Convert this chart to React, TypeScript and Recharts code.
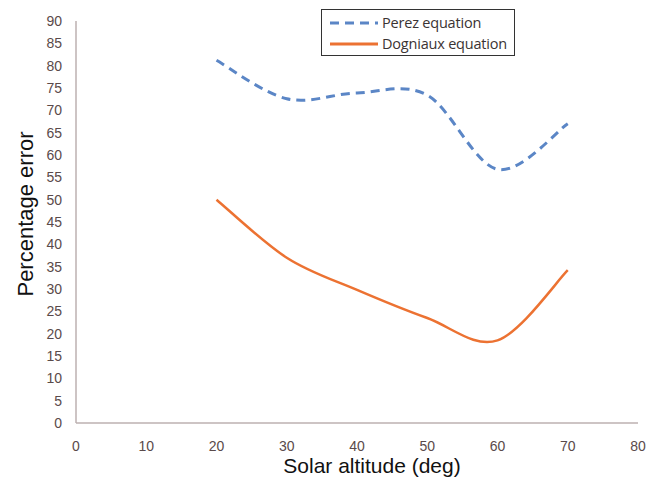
import React from "react";
import { LineChart, Line, XAxis, YAxis, Legend, Label } from "recharts";

const altitudes = [20, 30, 40, 50, 60, 70];
const perezError = [81.2, 72.6, 73.9, 73.4, 56.8, 67];
const dogniauxError = [50, 37, 29.8, 23.5, 18.5, 34.2];
const xTicks = [0, 10, 20, 30, 40, 50, 60, 70, 80];
const yTicks = [0, 5, 10, 15, 20, 25, 30, 35, 40, 45, 50, 55, 60, 65, 70, 75, 80, 85, 90];
const seriesNames = ["Perez equation", "Dogniaux equation"];
const xTitle = "Solar altitude (deg)";
const yTitle = "Percentage error";

const data = altitudes.map((a, i) => ({
  altitude: a,
  perez: perezError[i],
  dogniaux: dogniauxError[i],
}));

// Excel-like smoothed line (Catmull-Rom style Bezier)
function smoothCurve(context: any) {
  let pts: number[][] = [];
  return {
    areaStart() {},
    areaEnd() {},
    lineStart() {
      pts = [];
    },
    point(x: number, y: number) {
      pts.push([+x, +y]);
    },
    lineEnd() {
      const n = pts.length;
      if (!n) return;
      context.moveTo(pts[0][0], pts[0][1]);
      for (let i = 0; i < n - 1; i++) {
        const p0 = pts[Math.max(i - 1, 0)];
        const p1 = pts[i];
        const p2 = pts[i + 1];
        const p3 = pts[Math.min(i + 2, n - 1)];
        context.bezierCurveTo(
          p1[0] + (p2[0] - p0[0]) / 6,
          p1[1] + (p2[1] - p0[1]) / 6,
          p2[0] - (p3[0] - p1[0]) / 6,
          p2[1] - (p3[1] - p1[1]) / 6,
          p2[0],
          p2[1]
        );
      }
    },
  };
}

const PEREZ = "#5b86c6";
const DOGN = "#ec7232";
const AXIS = "#bcb0b0";
const TICK = "#5a4a4a";
const FONT = "'Liberation Sans', Arial, sans-serif";

function LegendBox(props: any) {
  const payload = [...(props.payload || [])].sort(
    (a: any, b: any) => seriesNames.indexOf(a.value) - seriesNames.indexOf(b.value)
  );
  return (
    <div
      style={{
        border: "1.5px solid #333",
        background: "#fff",
        width: 194,
        height: 47,
        boxSizing: "border-box",
        padding: "2px 0 0 6px",
        fontFamily: "'Open Sans', sans-serif",
        fontSize: 14.5,
        letterSpacing: -0.2,
        color: "#3a3333",
        textAlign: "left",
      }}
    >
      {payload.map((p: any) => (
        <div key={p.value} style={{ display: "flex", alignItems: "center", height: 21, whiteSpace: "nowrap" }}>
          <svg width={52} height={8} style={{ marginRight: 2, flex: "none" }}>
            <line
              x1={2}
              x2={50}
              y1={4}
              y2={4}
              stroke={p.color}
              strokeWidth={3}
              strokeDasharray={p.payload && p.payload.strokeDasharray ? "9 6" : undefined}
            />
          </svg>
          <span>{p.value}</span>
        </div>
      ))}
    </div>
  );
}

function YTitle(props: any) {
  const vb = props.viewBox || {};
  const cx = 25;
  const cy = vb.y + vb.height / 2 - 8;
  return (
    <text
      x={cx}
      y={cy}
      transform={`rotate(-90 ${cx} ${cy})`}
      textAnchor="middle"
      dominantBaseline="central"
      fill="#111"
      fontSize={22}
      fontFamily={FONT}
    >
      {yTitle}
    </text>
  );
}

function XTitle(props: any) {
  const vb = props.viewBox || {};
  const cx = vb.x + vb.width / 2 + 15;
  return (
    <text x={cx} y={473} textAnchor="middle" fill="#111" fontSize={21} fontFamily={FONT}>
      {xTitle}
    </text>
  );
}

export default function App() {
  return (
    <div style={{ position: "absolute", left: 0, top: 0, width: 661, height: 477, background: "#fff" }}>
      <LineChart
        width={661}
        height={477}
        data={data}
        margin={{ top: 21, right: 23, bottom: 0, left: 0 }}
      >
        <XAxis
          dataKey="altitude"
          type="number"
          domain={[0, 80]}
          ticks={xTicks}
          interval={0}
          tickLine={false}
          tickSize={6}
          tickMargin={12}
          axisLine={{ stroke: AXIS, strokeWidth: 1.5 }}
          tick={{ fill: TICK, fontSize: 14, fontFamily: FONT }}
          height={54}
        >
          <Label content={<XTitle />} />
        </XAxis>
        <YAxis
          type="number"
          domain={[0, 90]}
          ticks={yTicks}
          interval={0}
          tickLine={false}
          tickSize={6}
          tickMargin={8}
          axisLine={{ stroke: AXIS, strokeWidth: 1.5 }}
          tick={{ fill: TICK, fontSize: 14, fontFamily: FONT }}
          width={76}
        >
          <Label content={<YTitle />} />
        </YAxis>
        <Legend
          content={<LegendBox />}
          layout="horizontal"
          verticalAlign="middle"
          align="center"
          wrapperStyle={{ position: "absolute", left: 321, top: 9, width: 194, height: 47 }}
        />
        <Line
          dataKey="perez"
          name={seriesNames[0]}
          stroke={PEREZ}
          strokeWidth={3}
          strokeDasharray="9 6"
          type={smoothCurve as any}
          dot={false}
          isAnimationActive={false}
        />
        <Line
          dataKey="dogniaux"
          name={seriesNames[1]}
          stroke={DOGN}
          strokeWidth={2.5}
          type={smoothCurve as any}
          dot={false}
          isAnimationActive={false}
        />
      </LineChart>
    </div>
  );
}
